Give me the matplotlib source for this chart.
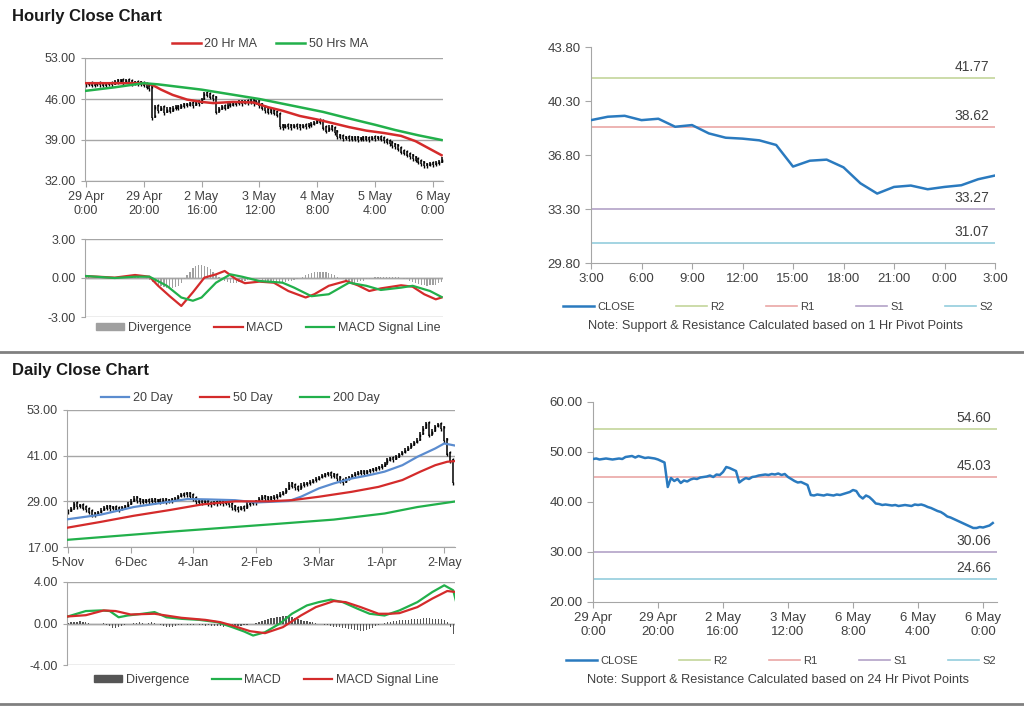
import numpy as np
import matplotlib.pyplot as plt
from matplotlib.lines import Line2D
from matplotlib.patches import Patch
from matplotlib.ticker import FormatStrFormatter

plt.rcParams['font.family'] = ['Liberation Sans', 'DejaVu Sans']
plt.rcParams['font.size'] = 8

# ---------------- data: hourly ----------------
hr_ticks = ["29 Apr\n0:00", "29 Apr\n20:00", "2 May\n16:00", "3 May\n12:00",
            "4 May\n8:00", "5 May\n4:00", "6 May\n0:00"]
hr_close = [48.6, 48.7, 48.5, 48.6, 48.7, 48.6, 48.5, 48.6, 48.7, 48.6,
            49.0, 49.1, 49.2, 48.9, 49.2, 49.0, 48.8, 48.9, 48.8, 48.7,
            48.5, 48.2, 47.9, 43.0, 44.8, 44.2, 44.6, 43.8, 44.3, 44.1,
            44.5, 44.7, 44.6, 44.9, 45.0, 45.1, 45.3, 45.0, 45.5, 45.4,
            46.0, 47.0, 46.8, 46.5, 46.2, 43.9, 44.4, 44.8, 44.6, 45.0,
            45.1, 45.3, 45.4, 45.5, 45.4, 45.6, 45.5, 45.7, 45.4, 45.6,
            45.0, 44.6, 44.2, 43.9, 44.0, 43.7, 43.4, 41.4, 41.3, 41.5,
            41.4, 41.3, 41.5, 41.4, 41.3, 41.5, 41.4, 41.6, 41.8, 42.0,
            42.4, 42.2, 41.2, 40.7, 41.3, 41.0, 40.4, 39.7, 39.6, 39.4,
            39.5, 39.4, 39.3, 39.4, 39.2, 39.3, 39.4, 39.3, 39.2, 39.5,
            39.4, 39.5, 39.3, 39.0, 38.8, 38.5, 38.2, 38.0, 37.6, 37.1,
            36.9, 36.6, 36.3, 36.0, 35.7, 35.4, 35.1, 34.8, 34.8, 35.0,
            34.9, 35.1, 35.3, 35.8]
hr_ma20_x = [0, 10, 20, 23, 26, 30, 35, 40, 44, 51, 58, 63, 68, 74, 80, 86, 91,
             97, 103, 109, 114, 120, 123]
hr_ma20 = [48.7, 48.7, 48.7, 48.4, 47.6, 46.7, 45.9, 45.5, 45.3, 45.5, 45.4,
           44.6, 44.0, 43.1, 42.5, 41.8, 41.2, 40.6, 40.2, 39.7, 38.8, 37.2, 36.4]
hr_ma50_x = [0, 10, 20, 25, 40, 60, 82, 90, 100, 107, 115, 123]
hr_ma50 = [47.4, 48.0, 48.7, 48.5, 47.6, 46.0, 43.8, 42.8, 41.6, 40.7, 39.8, 39.0]

hr_macd_x = [0, 10, 17, 22, 25, 29, 33, 37, 41, 45, 48, 52, 55, 60, 65, 70, 76,
             79, 84, 90, 94, 98, 102, 109, 113, 117, 121, 123]
hr_macd = [0.15, 0.03, 0.23, 0.1, -0.6, -1.4, -2.15, -1.1, 0.03, 0.28, 0.54,
           -0.1, -0.4, -0.28, -0.36, -1.0, -1.5, -1.25, -0.6, -0.23, -0.56,
           -1.0, -0.8, -0.56, -0.67, -1.25, -1.64, -1.5]
hr_sig_x = [0, 10, 17, 22, 28, 33, 37, 40, 45, 50, 54, 60, 68, 72, 78, 84, 91,
            97, 102, 109, 113, 119, 123]
hr_sig = [0.15, 0.0, 0.1, 0.1, -0.6, -1.5, -1.75, -1.5, -0.36, 0.28, 0.1,
          -0.23, -0.36, -0.74, -1.4, -1.25, -0.36, -0.6, -0.92, -0.74, -0.6,
          -1.0, -1.46]
hr_div = [0.05, 0.05, 0.03, 0.02, 0.02, 0.01, 0.0, 0.0, 0.0, 0.0,
          0.02, 0.04, 0.06, 0.08, 0.1, 0.1, 0.08, 0.06, 0.04, 0.02,
          0.0, -0.05, -0.15, -0.3, -0.45, -0.55, -0.65, -0.7, -0.75, -0.8,
          -0.75, -0.7, -0.6, -0.4, -0.1, 0.2, 0.5, 0.8, 0.95, 1.0,
          1.0, 0.95, 0.85, 0.7, 0.5, 0.3, 0.1, -0.1, -0.2, -0.3,
          -0.35, -0.4, -0.35, -0.3, -0.25, -0.2, -0.15, -0.1, -0.1, -0.1,
          -0.1, -0.15, -0.2, -0.25, -0.3, -0.35, -0.4, -0.4, -0.35, -0.3,
          -0.25, -0.2, -0.15, -0.1, 0.0, 0.1, 0.2, 0.3, 0.35, 0.45,
          0.5, 0.5, 0.5, 0.45, 0.4, 0.3, 0.2, 0.1, 0.0, -0.1,
          -0.2, -0.3, -0.35, -0.35, -0.3, -0.25, -0.2, -0.1, -0.05, 0.0,
          0.05, 0.05, 0.1, 0.1, 0.1, 0.1, 0.1, 0.05, 0.05, 0.0,
          -0.05, -0.1, -0.2, -0.3, -0.4, -0.45, -0.5, -0.55, -0.6, -0.55,
          -0.55, -0.5, -0.4, -0.3]

# last 24 hours close with 1 Hr pivots
h24_ticks = ["3:00", "6:00", "9:00", "12:00", "15:00", "18:00", "21:00", "0:00", "3:00"]
h24_close = [39.06, 39.28, 39.34, 39.06, 39.15, 38.63, 38.74, 38.20, 37.92,
             37.86, 37.75, 37.45, 36.05, 36.43, 36.50, 36.00, 34.97, 34.30,
             34.73, 34.82, 34.58, 34.73, 34.84, 35.23, 35.47]
pivot_names = ["R2", "R1", "S1", "S2"]
pivot_1h = [41.77, 38.62, 33.27, 31.07]
pivot_24h = [54.60, 45.03, 30.06, 24.66]
pivot_colors = ["#c3d69b", "#eaa7a5", "#b3a2c7", "#93cddd"]
h5_ticks = ["29 Apr\n0:00", "29 Apr\n20:00", "2 May\n16:00", "3 May\n12:00",
            "6 May\n8:00", "6 May\n4:00", "6 May\n0:00"]

# ---------------- data: daily ----------------
dy_ticks = ["5-Nov", "6-Dec", "4-Jan", "2-Feb", "3-Mar", "1-Apr", "2-May"]
dy_close = [26.5, 27.2, 28.6, 27.8, 28.0, 27.4, 27.0, 26.4, 25.8, 25.6,
            26.2, 26.8, 27.4, 27.6, 27.3, 27.5, 27.2, 27.0, 27.4, 27.8,
            28.4, 29.2, 30.0, 29.4, 29.2, 29.0, 29.3, 29.2, 29.4, 29.1,
            29.3, 29.2, 29.4, 29.0, 29.3, 29.4, 29.8, 30.4, 30.8, 30.9,
            31.0, 30.6, 29.8, 29.2, 29.0, 28.8, 29.0, 28.6, 28.4, 28.8,
            28.6, 28.9, 28.6, 28.8, 28.3, 27.6, 27.2, 27.0, 27.4, 27.3,
            28.4, 28.6, 28.8, 28.9, 29.8, 30.2, 30.0, 29.8, 30.0, 30.2,
            30.5, 31.0, 31.4, 32.2, 33.6, 33.2, 32.8, 32.4, 33.4, 33.6,
            33.8, 34.2, 34.6, 35.0, 35.4, 35.8, 36.2, 36.4, 36.0, 35.8,
            35.2, 34.6, 34.2, 35.0, 35.4, 35.9, 36.3, 36.6, 36.8, 36.6,
            37.0, 37.2, 37.4, 37.8, 38.0, 38.4, 39.0, 40.0, 40.4, 40.2,
            40.8, 41.4, 42.0, 42.6, 43.2, 44.0, 44.6, 45.2, 46.8, 48.4,
            49.6, 46.6, 47.6, 48.8, 49.2, 48.4, 45.2, 41.6, 39.8, 34.2]
dy_ma20_x = [0, 11, 22, 34, 40, 47, 56, 63, 74, 78, 84, 89, 95, 101, 106, 112,
             117, 123, 126, 130]
dy_ma20 = [24.3, 25.5, 27.5, 28.9, 29.6, 29.5, 29.3, 28.7, 29.1, 30.2, 32.4,
           33.7, 35.0, 35.9, 36.8, 38.5, 40.7, 42.9, 44.2, 43.6]
dy_ma50_x = [0, 11, 22, 34, 45, 56, 67, 75, 84, 95, 104, 112, 118, 123, 127, 130]
dy_ma50 = [22.1, 23.6, 25.2, 26.7, 28.2, 29.0, 29.0, 29.3, 30.2, 31.5, 32.8,
           34.6, 36.8, 38.5, 39.4, 39.6]
dy_ma200_x = [0, 34, 67, 89, 106, 117, 130]
dy_ma200 = [18.9, 21.0, 22.9, 24.2, 25.8, 27.5, 29.0]

dy_macd_x = [0, 3, 6, 11, 14, 17, 20, 25, 29, 33, 38, 44, 50, 55, 59, 62, 66,
             71, 75, 80, 84, 88, 92, 97, 101, 106, 111, 117, 122, 126, 129, 130]
dy_macd = [0.68, 0.94, 1.2, 1.26, 1.2, 0.6, 0.77, 0.94, 1.1, 0.6, 0.45, 0.35,
           0.13, -0.35, -0.77, -1.16, -0.84, 0.0, 0.94, 1.74, 2.06, 2.3, 2.06,
           1.42, 0.94, 0.77, 1.26, 2.06, 3.03, 3.68, 3.2, 2.06]
dy_sig_x = [0, 6, 12, 16, 21, 29, 38, 46, 51, 55, 61, 66, 72, 78, 83, 89, 93,
            98, 104, 108, 111, 117, 122, 127, 130]
dy_sig = [0.68, 0.8, 1.26, 1.2, 0.87, 0.94, 0.55, 0.35, 0.13, -0.19, -0.74,
          -0.93, -0.35, 0.77, 1.58, 2.16, 2.06, 1.58, 0.94, 0.94, 1.0, 1.58,
          2.4, 3.13, 3.03]
dy_div = [0.05, 0.1, 0.15, 0.15, 0.2, 0.15, 0.1, 0.05, 0.0, -0.05,
          -0.05, 0.0, 0.05, -0.1, -0.25, -0.4, -0.45, -0.35, -0.2, -0.1,
          -0.05, 0.0, 0.05, 0.05, 0.1, 0.05, 0.0, 0.05, 0.1, 0.05,
          0.0, -0.1, -0.2, -0.3, -0.35, -0.3, -0.2, -0.15, -0.1, -0.05,
          -0.1, -0.15, -0.1, -0.05, -0.1, -0.15, -0.2, -0.15, -0.2, -0.25,
          -0.2, -0.25, -0.3, -0.25, -0.3, -0.35, -0.3, -0.25, -0.2, -0.15,
          -0.1, -0.05, 0.0, 0.05, 0.1, 0.2, 0.3, 0.4, 0.5, 0.55,
          0.6, 0.65, 0.7, 0.7, 0.65, 0.6, 0.5, 0.4, 0.3, 0.25,
          0.2, 0.15, 0.1, 0.05, 0.0, -0.05, -0.1, -0.15, -0.2, -0.3,
          -0.3, -0.35, -0.4, -0.45, -0.5, -0.55, -0.6, -0.65, -0.7, -0.7,
          -0.65, -0.55, -0.4, -0.25, -0.1, 0.0, 0.05, 0.1, 0.15, 0.2,
          0.25, 0.3, 0.3, 0.35, 0.35, 0.4, 0.45, 0.45, 0.45, 0.5,
          0.5, 0.5, 0.45, 0.45, 0.4, 0.4, 0.3, 0.1, -0.3, -1.0]

RED = "#d42b2b"
GREEN = "#22b04b"
BLUE = "#5b8ccf"
CLOSE_BLUE = "#2a7abf"
GRID = "#a6a6a6"
TXT = "#404040"

W, H = 1024, 706
fig = plt.figure(figsize=(W / 100, H / 100), dpi=100)


def box(l, t, r, b):
    return [l / W, 1 - b / H, (r - l) / W, (b - t) / H]


def at(x, y):
    # figure-pixel position (from top-left) -> figure fraction
    return (x / W, 1 - y / H)


def style_left(ax, yt, xt=None, labels=None):
    ax.set_yticks(yt)
    ax.yaxis.set_major_formatter(FormatStrFormatter('%.2f'))
    ax.set_ylim(yt[0], yt[-1])
    ax.yaxis.grid(True, color=GRID, lw=1)
    ax.set_axisbelow(True)
    for s in ['top', 'right']:
        ax.spines[s].set_visible(False)
    for s in ['left', 'bottom']:
        ax.spines[s].set_color(GRID)
    ax.tick_params(colors=GRID, labelcolor=TXT, length=3, labelsize=9)
    if xt is not None:
        ax.set_xticks(xt)
        ax.set_xticklabels(labels)
        ax.tick_params(axis='x', length=4, pad=3)
    else:
        ax.set_xticks([])


def draw_bars(ax, close, pad):
    c = np.asarray(close)
    x = np.arange(len(c))
    prev = np.r_[c[0], c[:-1]]
    ax.vlines(x, np.minimum(prev, c) - pad, np.maximum(prev, c) + pad,
              color='black', lw=1.1, zorder=2)
    ax.plot(x, prev, ls='none', marker=2, ms=1.8, mew=1, color='black', zorder=2)
    ax.plot(x, c, ls='none', marker=3, ms=1.8, mew=1, color='black', zorder=2)


def top_legend(ax, pos, ncol, spacing):
    ax.legend(loc='center', bbox_to_anchor=at(*pos), bbox_transform=fig.transFigure,
              ncol=ncol, frameon=False, fontsize=9, handlelength=2.3,
              columnspacing=spacing, handletextpad=0.3, labelcolor=TXT)


def macd_panel(ax, xmax, lim, div, div_color, a_x, a, a_col, a_lab, b_x, b,
               b_col, b_lab, leg_pos):
    n = len(div)
    ax.bar(np.arange(n), div, width=0.45, color=div_color, zorder=1)
    ax.plot(a_x, a, color=a_col, lw=1.6, zorder=3)
    ax.plot(b_x, b, color=b_col, lw=1.6, zorder=3)
    ax.axhline(0, color='#909090', lw=1, zorder=0)
    style_left(ax, [-lim, 0, lim])
    ax.spines['bottom'].set_visible(False)
    ax.set_xlim(-0.3, xmax)
    handles = [Patch(color=div_color),
               Line2D([], [], color=a_col, lw=1.6),
               Line2D([], [], color=b_col, lw=1.6)]
    ax.legend(handles, ['Divergence', a_lab, b_lab], loc='center',
              bbox_to_anchor=at(*leg_pos), bbox_transform=fig.transFigure,
              ncol=3, frameon=False, fontsize=9,
              handlelength=2.3, handleheight=0.5, columnspacing=1.8,
              handletextpad=0.3, labelcolor=TXT)


def pivot_panel(ax, xs, ys, xmax, yt, levels, tick_pos, tick_lab, note,
                leg_pos, note_pos):
    for lv, col, nm in zip(levels, pivot_colors, pivot_names):
        ax.axhline(lv, color=col, lw=1.2, label=nm, zorder=1)
        ax.annotate(f'{lv:.2f}', xy=(1, lv), xycoords=('axes fraction', 'data'),
                    xytext=(-4, 3), textcoords='offset points', ha='right',
                    va='bottom', fontsize=10, color=TXT)
    ax.plot(xs, ys, color=CLOSE_BLUE, lw=1.8, label='CLOSE', zorder=3)
    ax.set_xlim(0, xmax)
    ax.set_ylim(yt[0], yt[-1])
    ax.set_yticks(yt)
    ax.yaxis.set_major_formatter(FormatStrFormatter('%.2f'))
    ax.set_xticks(tick_pos)
    ax.set_xticklabels(tick_lab)
    for s in ['top', 'right']:
        ax.spines[s].set_visible(False)
    for s in ['left', 'bottom']:
        ax.spines[s].set_color(GRID)
    ax.tick_params(colors=GRID, labelcolor=TXT, length=4, labelsize=9.5)
    h, l = ax.get_legend_handles_labels()
    order = [4, 0, 1, 2, 3]
    ax.legend([h[i] for i in order], [l[i] for i in order], loc='center',
              bbox_to_anchor=at(*leg_pos), bbox_transform=fig.transFigure,
              ncol=5, frameon=False, fontsize=8,
              handlelength=2.8, columnspacing=3.7, handletextpad=0.3,
              labelcolor=TXT)
    fig.text(*at(*note_pos), note, ha='center', va='center', fontsize=9.2,
             color=TXT)


# ---------------- hourly close chart ----------------
fig.text(*at(12, 16), 'Hourly Close Chart', fontsize=12, fontweight='bold',
         va='center', color='#1a1a1a')

ax1 = fig.add_axes(box(85, 58, 443, 181))
draw_bars(ax1, hr_close, 0.25)
ax1.plot(hr_ma20_x, hr_ma20, color=RED, lw=1.8, label='20 Hr MA', zorder=3)
ax1.plot(hr_ma50_x, hr_ma50, color=GREEN, lw=1.8, label='50 Hrs MA', zorder=3)
ax1.set_xlim(-0.3, 123.5)
style_left(ax1, [32, 39, 46, 53], list(range(0, 121, 20)), hr_ticks)
top_legend(ax1, (270, 44), 2, 1.5)

ax2 = fig.add_axes(box(85, 239, 443, 317))
macd_panel(ax2, 123.5, 3, hr_div, '#a0a0a0', hr_macd_x, hr_macd, RED, 'MACD',
           hr_sig_x, hr_sig, GREEN, 'MACD Signal Line', (268, 328))

ax3 = fig.add_axes(box(591, 47, 995, 263))
pivot_panel(ax3, np.arange(len(h24_close)), h24_close, 24,
            [29.8, 33.3, 36.8, 40.3, 43.8], pivot_1h, list(range(0, 25, 3)),
            h24_ticks, 'Note: Support & Resistance Calculated based on 1 Hr Pivot Points',
            (778, 307), (776, 326))

# ---------------- daily close chart ----------------
fig.text(*at(12, 370), 'Daily Close Chart', fontsize=12, fontweight='bold',
         va='center', color='#1a1a1a')

ax4 = fig.add_axes(box(67, 410, 455, 547))
draw_bars(ax4, dy_close, 0.35)
ax4.plot(dy_ma20_x, dy_ma20, color=BLUE, lw=1.6, label='20 Day', zorder=3)
ax4.plot(dy_ma50_x, dy_ma50, color=RED, lw=1.6, label='50 Day', zorder=3)
ax4.plot(dy_ma200_x, dy_ma200, color=GREEN, lw=1.6, label='200 Day', zorder=3)
ax4.set_xlim(-0.3, 129.6)
style_left(ax4, [17, 29, 41, 53], list(range(0, 127, 21)), dy_ticks)
top_legend(ax4, (240, 398), 3, 2.2)

ax5 = fig.add_axes(box(67, 582, 455, 665))
macd_panel(ax5, 129.6, 4, dy_div, '#555555', dy_macd_x, dy_macd, GREEN, 'MACD',
           dy_sig_x, dy_sig, RED, 'MACD Signal Line', (266, 680))

ax6 = fig.add_axes(box(593, 402, 997, 602))
pivot_panel(ax6, np.arange(len(hr_close)), hr_close, 124.3,
            [20, 30, 40, 50, 60], pivot_24h, list(range(0, 121, 20)), h5_ticks,
            'Note: Support & Resistance Calculated based on 24 Hr Pivot Points',
            (781, 661), (778, 680))

# separators
for yy in (352, 704):
    fig.add_artist(Line2D([0, 1], [1 - yy / H] * 2, color='#808080', lw=2))

fig.savefig('out.png', dpi=100)
